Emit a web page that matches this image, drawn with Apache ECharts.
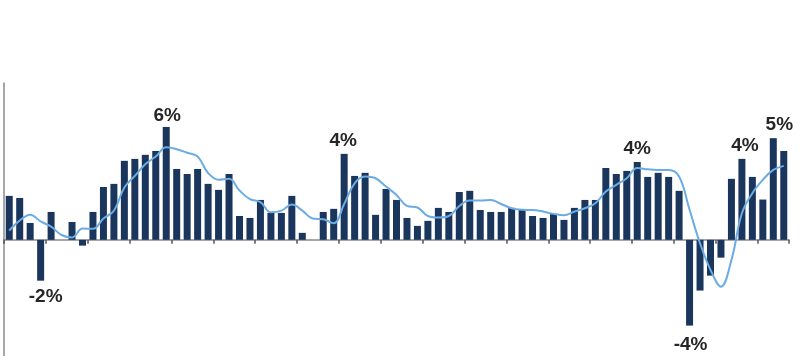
<!DOCTYPE html>
<html>
<head>
<meta charset="utf-8">
<script src="https://cdn.jsdelivr.net/npm/echarts@6/dist/echarts.min.js"></script>
<style>
html,body{margin:0;padding:0;background:#fff;}
#chart{width:805px;height:356px;}
</style>
</head>
<body>
<div id="chart"></div>
<script>
// Quarterly categories (75 quarters)
const startYear = 2004;
const categories = [];
for (let i = 0; i < 75; i++) {
  categories.push((startYear + Math.floor(i / 4)) + ' Q' + (i % 4 + 1));
}

// Quarterly growth (bars)
const barValues = [
  2.27, 2.16, 0.87, -2.11, 1.44, 0.00, 0.92, -0.30,
  1.44, 2.73, 2.89, 4.08, 4.18, 4.39, 4.59, 5.83,
  3.66, 3.40, 3.66, 2.89, 2.58, 3.40, 1.23, 1.13,
  2.06, 1.39, 1.39, 2.27, 0.36, 0.00, 1.44, 1.60,
  4.44, 3.30, 3.46, 1.29, 2.63, 2.06, 1.13, 0.72,
  0.98, 1.65, 1.44, 2.47, 2.53, 1.54, 1.44, 1.44,
  1.65, 1.58, 1.23, 1.13, 1.34, 1.03, 1.65, 2.06,
  2.06, 3.71, 3.40, 3.56, 4.02, 3.25, 3.46, 3.25,
  2.53, -4.43, -2.62, -1.85, -0.92, 3.15, 4.18, 3.25,
  2.08, 5.25, 4.59
];

// Smoothed trend (line)
const lineValues = [
  0.48, 1.00, 1.30, 0.95, 0.68, 0.25, 0.12, 0.58,
  0.57, 1.10, 1.50, 2.70, 3.30, 3.90, 4.30, 4.78,
  4.68, 4.50, 4.30, 3.45, 3.10, 3.15, 2.55, 2.10,
  1.95, 1.42, 1.51, 1.82, 1.51, 1.10, 1.06, 0.86,
  1.85, 2.92, 3.27, 3.18, 2.75, 2.32, 1.75, 1.67,
  1.23, 1.15, 1.23, 1.75, 2.03, 2.03, 2.06, 1.85,
  1.63, 1.55, 1.54, 1.46, 1.34, 1.27, 1.46, 1.63,
  1.89, 2.49, 2.84, 3.18, 3.71, 3.64, 3.61, 3.61,
  3.27, 1.55, -0.18, -1.55, -2.42, -1.04, 1.37, 2.41,
  3.10, 3.61, 3.82
];

// Annotated bars: index -> label text
const labelIndex = [3, 15, 32, 60, 65, 70, 73];
const labelText  = ['-2%', '6%', '4%', '4%', '-4%', '4%', '5%'];

// Label nudges (style only, pixels)
const labelNudge = [[5, 1], [1, 2], [-1, 0], [0, 0], [1, 4], [3, 0], [6, 0]];

const barData = barValues.map((v, i) => {
  const k = labelIndex.indexOf(i);
  if (k < 0) return v;
  return {
    value: v,
    label: {
      show: true,
      position: v < 0 ? 'bottom' : 'top',
      distance: v < 0 ? 6 : 4,
      offset: labelNudge[k],
      formatter: labelText[k]
    }
  };
});

const chart = echarts.init(document.getElementById('chart'));
chart.setOption({
  animation: false,
  grid: { left: 4, right: 16, top: 83, bottom: 0, containLabel: false },
  xAxis: {
    type: 'category',
    data: categories,
    boundaryGap: true,
    axisLine: { show: true, onZero: true, lineStyle: { color: '#8a8a8a', width: 1.5 } },
    axisTick: { show: true, interval: 3, length: 4, inside: false, lineStyle: { color: '#555', width: 1.5 } },
    axisLabel: { show: false },
    splitLine: { show: false }
  },
  yAxis: {
    type: 'value',
    min: -6, max: 8.1,
    axisLine: { show: true, lineStyle: { color: '#8a8a8a', width: 1.5 } },
    axisTick: { show: false },
    axisLabel: { show: false },
    splitLine: { show: false }
  },
  series: [
    {
      type: 'bar',
      data: barData,
      barWidth: 7,
      itemStyle: { color: '#1b365d' },
      label: {
        show: false,
        fontFamily: 'Liberation Sans, Arial, sans-serif',
        fontWeight: 'bold',
        fontSize: 19,
        color: '#262626'
      },
      z: 2
    },
    {
      type: 'line',
      data: lineValues,
      smooth: 0.4,
      symbol: 'none',
      lineStyle: { color: '#6cace4', width: 2 },
      z: 3
    }
  ]
});
</script>
</body>
</html>
